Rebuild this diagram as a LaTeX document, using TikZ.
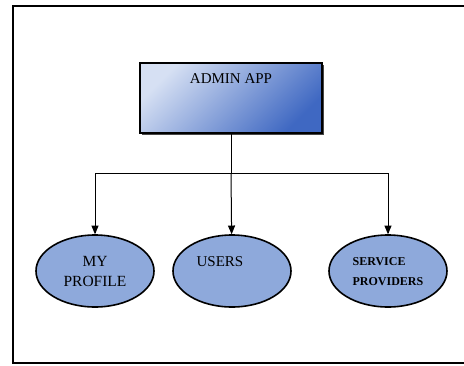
\documentclass[tikz,border=0pt]{standalone}
\usepackage{fontspec}
\setmainfont{Liberation Serif}
\usetikzlibrary{arrows}
\usetikzlibrary{shapes}
\usetikzlibrary{shadows}
\definecolor{boxlight}{HTML}{D6E0F3}
\definecolor{boxmid}{HTML}{A6BBE5}
\definecolor{boxdark}{HTML}{3F68C2}
\definecolor{ovalblue}{HTML}{8EA9DB}

\begin{document}
\begin{tikzpicture}[x = 1pt,y = -1pt]
            % Define styles
            \tikzstyle{appbox} = [draw,line width=1.2pt,shape=rectangle,minimum width=182pt,minimum height=70pt,shading=axis,top color=boxlight,middle color=boxmid,bottom color=boxdark,shading angle=45,drop shadow={shadow xshift=2pt,shadow yshift=-2pt,opacity=0.9,fill=black!80}]
            \tikzstyle{oval} = [draw,line width=1.6pt,fill=ovalblue,shape=ellipse,minimum width=118pt,minimum height=72pt,inner sep=0pt,align=center]
            \tikzstyle{treearrow} = [line width=1pt,draw=black,-triangle 45]
            \tikzstyle{treeline} = [line width=1pt,draw=black,-]
            % Page and frame
                \useasboundingbox (0,0) rectangle (464,365);
                \draw [line width=2.5pt] (480,6) -- (13,6) -- (13,363) -- (480,363);
            % Top box
                \node (admin) at (231,98) [appbox,label={[name=admintext,anchor=north,yshift=-8pt,font=\fontsize{15}{17}\selectfont]north:ADMIN APP}] {};
            % Ovals
                \node (profile) at (95,271) [oval,font=\fontsize{15.5}{20}\selectfont] {MY\\PROFILE};
                \node (users) at (232,271) [oval,label={[name=userstext,xshift=-12pt,yshift=9pt,font=\fontsize{15}{17}\selectfont]center:USERS}] {};
                \node (service) at (388,271) [oval,label={[name=servicetext,xshift=0pt,yshift=-1pt,align=left,font=\bfseries\fontsize{12}{20}\selectfont]center:SERVICE\\PROVIDERS}] {};
            % Connectors
                \coordinate (hub) at (231,173);
                \draw [treeline] (admin) -- (hub);
                \draw [treearrow] (hub) -| (profile);
                \draw [treearrow] (hub) -- (users);
                \draw [treearrow] (hub) -| (service);
\end{tikzpicture}
\end{document}
